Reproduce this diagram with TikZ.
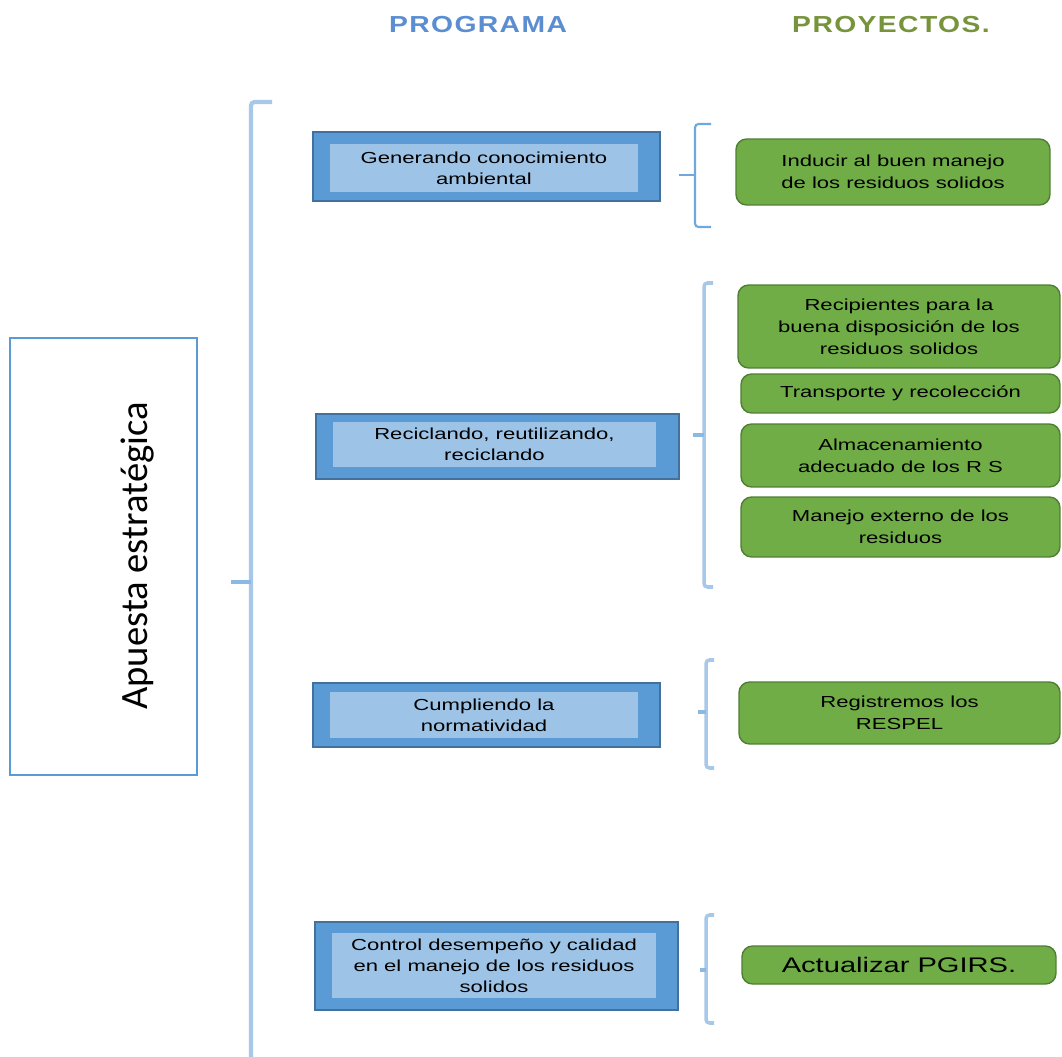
\documentclass[tikz,border=0pt]{standalone}
\usepackage{fontspec}
\setmainfont[FakeStretch=1.38]{Liberation Sans}
\newfontfamily\headfont[FakeStretch=1.22,LetterSpace=6]{Liberation Sans}
\newfontfamily\apfont{Carlito}
\definecolor{progblue}{HTML}{5B9BD5}
\definecolor{progdark}{HTML}{41719C}
\definecolor{proglight}{HTML}{9DC3E6}
\definecolor{proygreen}{HTML}{70AD47}
\definecolor{proydark}{HTML}{507E32}
\definecolor{bracecol}{HTML}{A7C8E8}
\definecolor{bracedark}{HTML}{6FA8DC}
\definecolor{headblue}{HTML}{5B8ED0}
\definecolor{headgreen}{HTML}{77933C}

\begin{document}
\begin{tikzpicture}[x=0.02cm,y=-0.02cm,
  progout/.style={draw=progdark,fill=progblue,line width=0.8pt,inner sep=0pt},
  progin/.style={fill=proglight,inner sep=0pt,align=center,font=\fontsize{9.1}{12}\selectfont},
  proybox/.style={draw=proydark,fill=proygreen,line width=0.8pt,rounded corners=6pt,inner sep=0pt,align=center,font=\fontsize{9.1}{12.6}\selectfont},
  llave/.style={draw=bracecol,line width=2pt,rounded corners=2pt},
  head/.style={font=\headfont\bfseries\fontsize{13.2}{15}\selectfont}]
  \useasboundingbox (0,0) rectangle (1062,1057);
  % titles
  \node[head,text=headblue] (tprog) at (478,25) {PROGRAMA};
  \node[head,text=headgreen] (tproy) at (891,25) {PROYECTOS.};
  % apuesta
  \node[draw=progblue,line width=1pt,minimum width=3.74cm,minimum height=8.74cm] (apuesta) at (103.5,556.5) {};
  \node[rotate=90,font=\apfont\fontsize{22}{26}\selectfont] (apuestatxt) at (138,556) {Apuesta estratégica};
  \draw[llave,line width=2.4pt] (272,102) -- (251,102) -- (251,1064);
  \draw[llave,draw=bracedark!80,line width=1.8pt] (231,582) -- (251,582);
  % programas
  \node[progout,minimum width=6.94cm,minimum height=1.38cm] (prog1) at (486.5,166.5) {};
  \node[progin,minimum width=6.16cm,minimum height=0.96cm] (prog1t) at (484,168) {Generando conocimiento\\ambiental};
  \node[progout,minimum width=7.26cm,minimum height=1.3cm] (prog2) at (497.5,446.5) {};
  \node[progin,minimum width=6.46cm,minimum height=0.9cm] (prog2t) at (494.5,444.5) {Reciclando, reutilizando,\\reciclando};
  \node[progout,minimum width=6.94cm,minimum height=1.28cm] (prog3) at (486.5,715) {};
  \node[progin,minimum width=6.16cm,minimum height=0.92cm] (prog3t) at (484,715) {Cumpliendo la\\normatividad};
  \node[progout,minimum width=7.26cm,minimum height=1.76cm] (prog4) at (496.5,966) {};
  \node[progin,minimum width=6.48cm,minimum height=1.3cm] (prog4t) at (494,965.5) {Control desempeño y calidad\\en el manejo de los residuos\\solidos};
  % proyectos
  \node[proybox,minimum width=6.28cm,minimum height=1.32cm] (proy1) at (893,172) {Inducir al buen manejo\\de los residuos solidos};
  \node[proybox,minimum width=6.44cm,minimum height=1.66cm] (proy2a) at (899,326.5) {Recipientes para la\\buena disposición de los\\residuos solidos};
  \node[proybox,minimum width=6.38cm,minimum height=0.78cm] (proy2b) at (900.5,393.5) {Transporte y recolección};
  \node[proybox,minimum width=6.38cm,minimum height=1.26cm] (proy2c) at (900.5,455.5) {Almacenamiento\\adecuado de los R S};
  \node[proybox,minimum width=6.38cm,minimum height=1.2cm] (proy2d) at (900.5,527) {Manejo externo de los\\residuos};
  \node[proybox,minimum width=6.42cm,minimum height=1.24cm] (proy3) at (899.5,713) {Registremos los\\RESPEL};
  \node[proybox,minimum width=6.28cm,minimum height=0.76cm,font=\fontsize{12}{14}\selectfont] (proy4) at (899,965) {Actualizar PGIRS.};
  % llaves
  \draw[llave,draw=bracedark,line width=1.2pt] (711,124) -- (695,124) -- (695,227) -- (711,227);
  \draw[llave,draw=bracedark,line width=1.4pt] (679,175) -- (695,175);
  \draw[llave] (713,283) -- (704,283) -- (704,587) -- (713,587);
  \draw[llave,draw=bracedark!80,line width=1.8pt] (693,435) -- (704,435);
  \draw[llave] (714,660) -- (706,660) -- (706,768) -- (714,768);
  \draw[llave,draw=bracedark!80,line width=1.8pt] (698,712) -- (706,712);
  \draw[llave] (714,915) -- (706,915) -- (706,1023) -- (714,1023);
  \draw[llave,draw=bracedark!80,line width=1.8pt] (700,970) -- (706,970);
\end{tikzpicture}
\end{document}
